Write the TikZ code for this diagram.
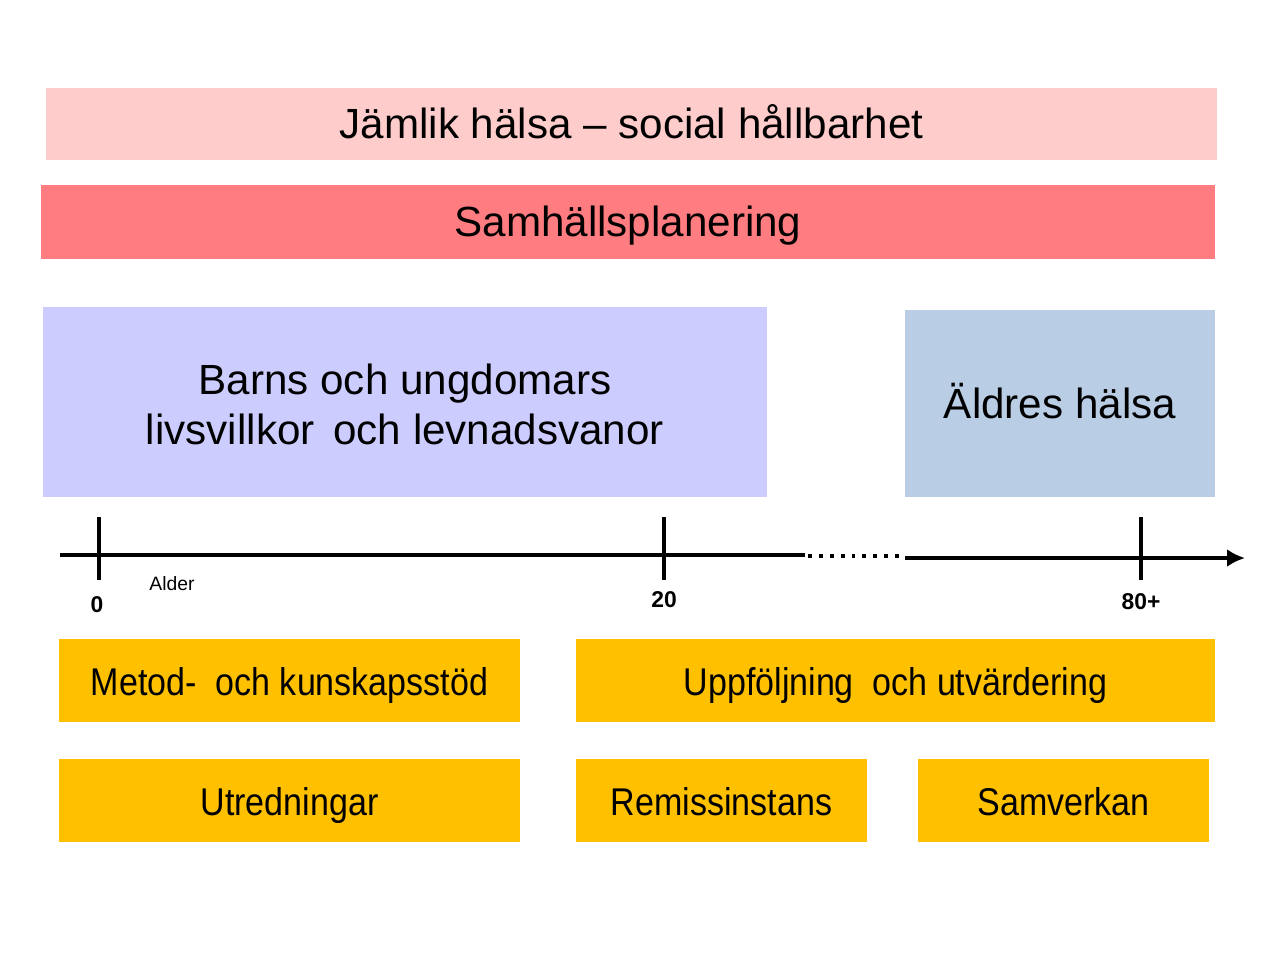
\documentclass[tikz,border=0pt]{standalone}
\usepackage{fontspec}
\setmainfont{Liberation Sans}
\newfontfamily\narrowfont[FakeStretch=0.88]{Liberation Sans}
\usepackage{tikz}
\usetikzlibrary{arrows.meta}
\definecolor{jamrosa}{HTML}{FFCCCC}
\definecolor{samrod}{HTML}{FF7C80}
\definecolor{barnlila}{HTML}{CCCCFF}
\definecolor{aldbla}{HTML}{B9CDE5}
\definecolor{stodgul}{HTML}{FFC000}
\tikzset{
  band/.style={inner sep=0pt, minimum height=#1, text height=0.85em, text depth=0pt},
  stod/.style={fill=stodgul, inner sep=0pt, minimum height=8.3mm, text height=0.88em, text depth=0pt, font=\narrowfont\fontsize{11}{12}\selectfont},
  tick/.style={line width=1pt},
  axl/.style={font=\bfseries\fontsize{6.5}{8}\selectfont},
}
\begin{document}
\begin{tikzpicture}[x=0.1mm, y=-0.1mm]
\useasboundingbox (0,0) rectangle (1275,956);
\node[band=7.2mm, fill=jamrosa, minimum width=117.1mm, font=\fontsize{12}{14}\selectfont] (J) at (631.5,124) {Jämlik hälsa -- social hållbarhet};
\node[band=7.4mm, fill=samrod, minimum width=117.4mm, font=\fontsize{12}{14}\selectfont] (S) at (628,222) {Samhällsplanering};
\node[fill=barnlila, inner sep=0pt, minimum height=19mm, minimum width=72.4mm, align=center, font=\fontsize{12}{14.2}\selectfont] (B) at (405,402) {\rule{0pt}{10.3pt}Barns och ungdomars\\livsvillkor\ \,och levnadsvanor};
\node[band=18.7mm, fill=aldbla, minimum width=31mm, font=\fontsize{12}{14}\selectfont] (A) at (1060,403.5) {Äldres hälsa};
% tidsaxel
\coordinate (X0) at (60,555);
\coordinate (X1) at (805,555);
\coordinate (X2) at (808,556);
\coordinate (X3) at (902,556);
\coordinate (X4) at (905,558);
\coordinate (X5) at (1245,558);
\draw[line width=1.1pt] (X0) -- (X1);
\draw[line width=1.1pt, dotted] (X2) -- (X3);
\draw[line width=1.1pt, -{Latex[length=1.8mm,width=1.8mm]}] (X4) -- (X5);
\foreach \n/\x in {T0/99, T20/664, T80/1141} {
  \coordinate (\n a) at (\x,517);
  \coordinate (\n b) at (\x,580);
  \draw[tick] (\n a) -- (\n b);
}
\node[axl] (L0) at (97,605) {0};
\node[axl] (L20) at (664,600) {20};
\node[axl] (L80) at (1141,602) {80+};
\node[font=\fontsize{5.5}{6}\selectfont] (Lal) at (172,584) {Alder};
% stöd
\node[stod, minimum width=46.1mm] (M) at (289.5,680.5) {Metod-\ \ och kunskapsstöd};
\node[stod, minimum width=63.9mm] (U) at (895.5,680.5) {Uppföljning\ \ och utvärdering};
\node[stod, minimum width=46.1mm] (Ut) at (289.5,800) {Utredningar};
\node[stod, minimum width=29.1mm] (R) at (721.5,800) {Remissinstans};
\node[stod, minimum width=29.1mm] (Sv) at (1063.5,800) {Samverkan};
\end{tikzpicture}
\end{document}
